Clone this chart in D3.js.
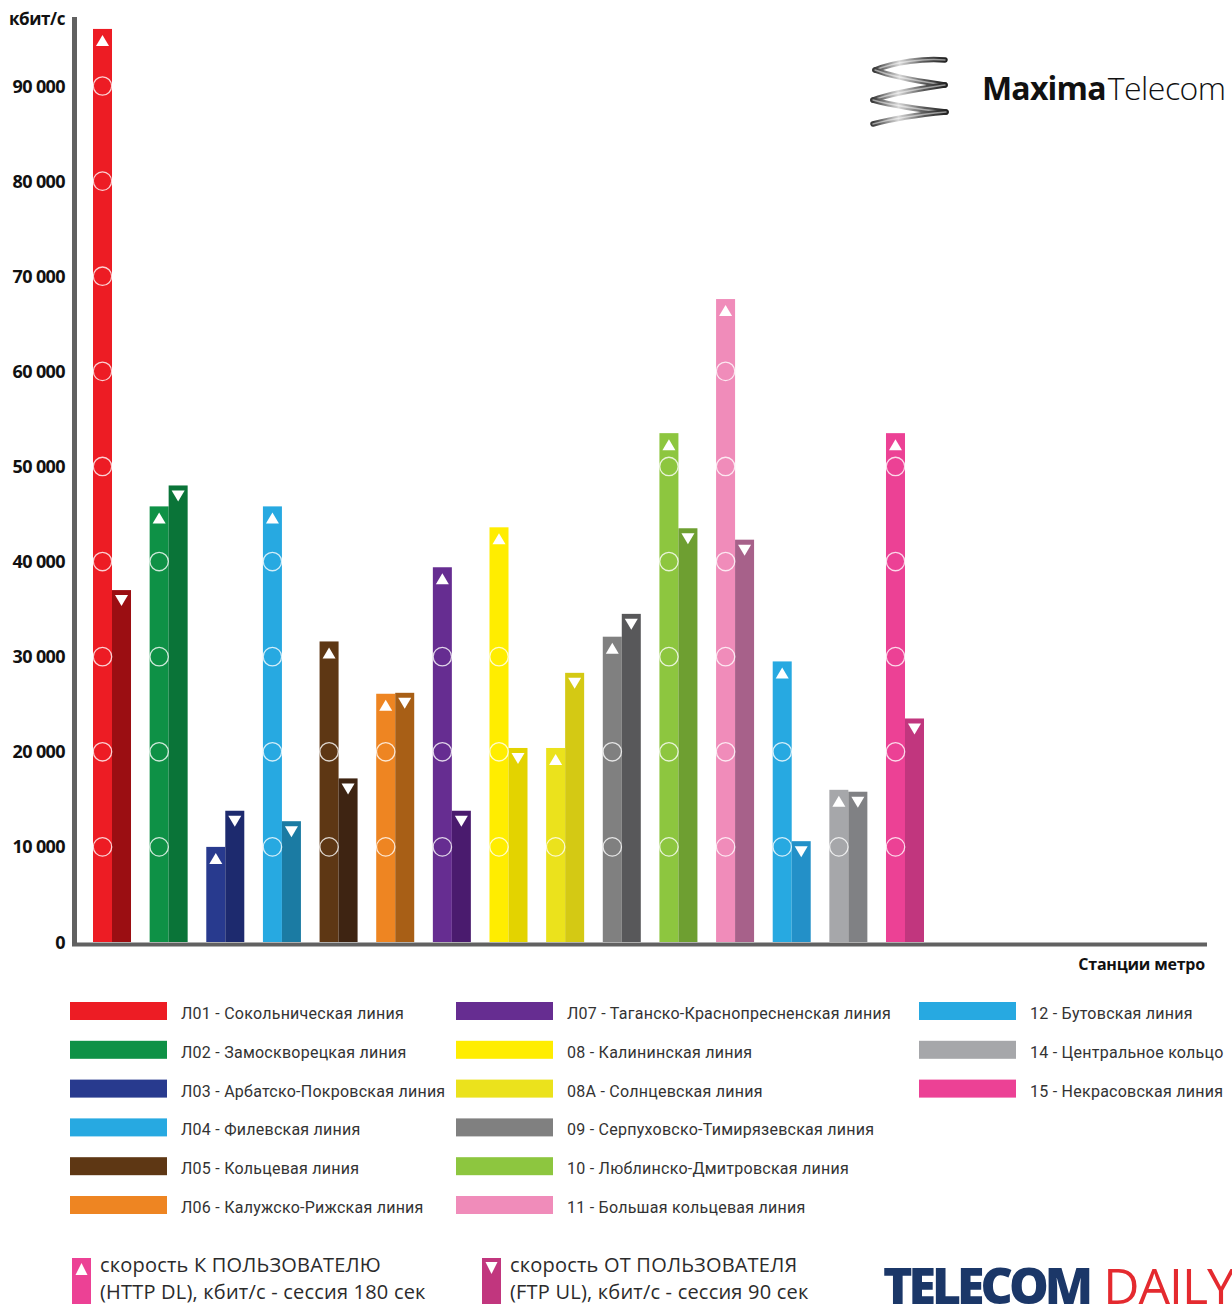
<!DOCTYPE html>
<html>
<head>
<meta charset="utf-8">
<script src="https://cdn.jsdelivr.net/npm/d3@7"></script>
<style>
  html, body { margin: 0; padding: 0; background: #ffffff; }
  svg { display: block; }
</style>
</head>
<body>
<div id="chart"></div>
<script>
// ---------- DATA ----------
const lineCodes = ["Л01","Л02","Л03","Л04","Л05","Л06","Л07","08","08A","09","10","11","12","14","15"];
const lineNames = [
  "Сокольническая линия","Замоскворецкая линия","Арбатско-Покровская линия","Филевская линия",
  "Кольцевая линия","Калужско-Рижская линия","Таганско-Краснопресненская линия","Калининская линия",
  "Солнцевская линия","Серпуховско-Тимирязевская линия","Люблинско-Дмитровская линия",
  "Большая кольцевая линия","Бутовская линия","Центральное кольцо","Некрасовская линия"
];
// скорость К ПОЛЬЗОВАТЕЛЮ (HTTP DL), кбит/с
const dlValues = [96000, 45800, 10000, 45800, 31600, 26100, 39400, 43600, 20400, 32100, 53500, 67600, 29500, 16000, 53500];
// скорость ОТ ПОЛЬЗОВАТЕЛЯ (FTP UL), кбит/с
const ulValues = [37000, 48000, 13800, 12700, 17200, 26200, 13800, 20400, 28300, 34500, 43500, 42300, 10600, 15800, 23500];
const dlColors = ["#ED1C24","#0E9146","#283A8E","#27A9E1","#5E3714","#EE8522","#662D91","#FFED00","#EBE21C","#808080","#8DC63F","#F08CBA","#27A9E1","#A6A7AA","#EC4195"];
const ulColors = ["#9B0E12","#0A7438","#1D2A6E","#1B7BA3","#3E2412","#A85F16","#4A1B6E","#E3D300","#D4C914","#58585A","#6E9F31","#A7618A","#2390C8","#808184","#C1367E"];
const yTicks = [0, 10000, 20000, 30000, 40000, 50000, 60000, 70000, 80000, 90000];
const yUnit = "кбит/с";
const xTitle = "Станции метро";
const legendDL = ["скорость К ПОЛЬЗОВАТЕЛЮ", "(HTTP DL), кбит/с - сессия 180 сек"];
const legendUL = ["скорость ОТ ПОЛЬЗОВАТЕЛЯ", "(FTP UL), кбит/с - сессия 90 сек"];

// ---------- SETUP ----------
const W = 1232, H = 1304;
const svg = d3.select("#chart").append("svg").attr("width", W).attr("height", H);
const defs = svg.append("defs");

const fmt = d3.formatLocale({decimal: ",", thousands: " ", grouping: [3], currency: ["", ""]}).format(",d");

const y = d3.scaleLinear().domain([0, 90000]).range([942, 86]);
const x = d3.scaleBand().domain(d3.range(lineCodes.length)).range([93, 924]).paddingInner(0.329).paddingOuter(0);
const sub = d3.scaleBand().domain(["dl", "ul"]).range([0, x.bandwidth()]);

const axisColor = "#616161";

// ---------- BARS ----------
const g = svg.append("g");
const groups = g.selectAll("g.grp").data(lineCodes.map((c, i) => i)).join("g")
  .attr("class", "grp").attr("transform", i => `translate(${x(i)},0)`);

groups.append("rect")
  .attr("x", sub("dl")).attr("width", sub.bandwidth())
  .attr("y", i => y(dlValues[i])).attr("height", i => y(0) - y(dlValues[i]))
  .attr("fill", i => dlColors[i]);
groups.append("rect")
  .attr("x", sub("ul")).attr("width", sub.bandwidth())
  .attr("y", i => y(ulValues[i])).attr("height", i => y(0) - y(ulValues[i]))
  .attr("fill", i => ulColors[i]);

// circles at tick levels inside DL bars (skipped near the top where the marker sits)
groups.each(function(i) {
  const cx = sub("dl") + sub.bandwidth() / 2;
  const lv = yTicks.filter(t => t > 0 && t <= dlValues[i] - 3000 && !(y(t) - y(dlValues[i]) < 36 && i === 7));
  d3.select(this).selectAll("circle").data(lv).join("circle")
    .attr("cx", cx).attr("cy", t => y(t)).attr("r", 9.2)
    .attr("fill", "none").attr("stroke", "rgba(255,255,255,0.8)").attr("stroke-width", 1.3);
});

// triangles
groups.append("path")
  .attr("d", i => {
    const cx = sub("dl") + sub.bandwidth() / 2, t = y(dlValues[i]);
    return `M${cx - 6.5},${t + 17} L${cx + 6.5},${t + 17} L${cx},${t + 6} Z`;
  }).attr("fill", "#fff");
groups.append("path")
  .attr("d", i => {
    const cx = sub("ul") + sub.bandwidth() / 2, t = y(ulValues[i]);
    return `M${cx - 6.5},${t + 5} L${cx + 6.5},${t + 5} L${cx},${t + 16} Z`;
  }).attr("fill", "#fff");

// ---------- AXES ----------
svg.append("rect").attr("x", 72).attr("y", 17).attr("width", 5).attr("height", y(0) - 17 + 4).attr("fill", axisColor);
svg.append("rect").attr("x", 72).attr("y", y(0) + 0.5).attr("width", 1207 - 72).attr("height", 4).attr("fill", axisColor);

svg.append("g").selectAll("text").data(yTicks).join("text")
  .attr("x", 65).attr("y", d => y(d) + 6.5)
  .attr("text-anchor", "end")
  .attr("font-family", "'Open Sans', 'Liberation Sans', sans-serif")
  .attr("font-weight", 700).attr("font-size", 18).attr("letter-spacing", -0.6)
  .attr("fill", "#111")
  .text(d => fmt(d));

svg.append("text").attr("x", 65).attr("y", 25).attr("text-anchor", "end")
  .attr("font-family", "'Open Sans', 'Liberation Sans', sans-serif")
  .attr("font-weight", 700).attr("font-size", 17).attr("letter-spacing", -0.4)
  .attr("fill", "#111").text(yUnit);

svg.append("text").attr("x", 1205).attr("y", 970).attr("text-anchor", "end")
  .attr("font-family", "'Open Sans', 'Liberation Sans', sans-serif")
  .attr("font-weight", 700).attr("font-size", 16).attr("letter-spacing", -0.2)
  .attr("fill", "#111").text(xTitle);

// ---------- LEGEND ----------
const colX = [70, 456, 919];
const rowsPerCol = [6, 6, 3];
const lg = svg.append("g");
let idx = 0;
colX.forEach((cx, c) => {
  for (let r = 0; r < rowsPerCol[c]; r++, idx++) {
    const yy = 1002 + r * 38.8;
    lg.append("rect").attr("x", cx).attr("y", yy).attr("width", 97).attr("height", 18).attr("fill", dlColors[idx]);
    lg.append("text").attr("x", cx + 111).attr("y", yy + 17)
      .attr("font-family", "'Roboto', 'Liberation Sans', sans-serif")
      .attr("font-size", 16).attr("letter-spacing", 0.25).attr("fill", "#333")
      .text(`${lineCodes[idx]} - ${lineNames[idx]}`);
  }
});

// bottom legend for DL / UL
function markerLegend(x0, color, up, lines) {
  const gg = svg.append("g");
  gg.append("rect").attr("x", x0).attr("y", 1258).attr("width", 19).attr("height", 46).attr("fill", color);
  const cx = x0 + 9.5;
  gg.append("path").attr("fill", "#fff").attr("d", up
    ? `M${cx - 6},${1275} L${cx + 6},${1275} L${cx},${1263} Z`
    : `M${cx - 6},${1262} L${cx + 6},${1262} L${cx},${1274} Z`);
  lines.forEach((t, k) => {
    gg.append("text").attr("x", x0 + 28).attr("y", 1272 + k * 27)
      .attr("font-family", "'Open Sans', 'Liberation Sans', sans-serif")
      .attr("font-size", 20).attr("fill", "#2b2b2b").attr("letter-spacing", 0.2)
      .text(t);
  });
}
markerLegend(72, "#EC4195", true, legendDL);
markerLegend(482, "#C1367E", false, legendUL);

// ---------- LOGOS ----------
// MaximaTelecom
const grad = defs.append("linearGradient").attr("id", "spr").attr("x1", "0").attr("y1", "0").attr("x2", "1").attr("y2", "0");
grad.append("stop").attr("offset", "0").attr("stop-color", "#3a3a3a");
grad.append("stop").attr("offset", "0.35").attr("stop-color", "#d8d8d8");
grad.append("stop").attr("offset", "0.7").attr("stop-color", "#5a5a5a");
grad.append("stop").attr("offset", "1").attr("stop-color", "#222");
const spring = svg.append("g").attr("fill", "none").attr("stroke", "url(#spr)").attr("stroke-linecap", "round");
const coils = [
  "M875,70 C895,62 925,58 945,60",
  "M875,70 C895,78 925,82 945,85",
  "M945,85 C925,88 895,92 873,100",
  "M873,100 C895,106 925,110 946,112",
  "M946,112 C925,114 895,118 873,124"
];
coils.forEach(d => spring.append("path").attr("d", d).attr("stroke-width", 5.5));
spring.selectAll("path").clone().attr("stroke", "rgba(255,255,255,0.5)").attr("stroke-width", 1.5);

const mt = svg.append("text").attr("x", 982).attr("y", 100)
  .attr("font-family", "'Open Sans', 'Liberation Sans', sans-serif").attr("font-size", 32).attr("fill", "#111");
mt.append("tspan").attr("font-weight", 700).attr("letter-spacing", -0.8).text("Maxima");
mt.append("tspan").attr("font-weight", 300).attr("letter-spacing", -0.5).attr("dx", 2).text("Telecom");

// TELECOM DAILY
const td = svg.append("text").attr("x", 883).attr("y", 1304)
  .attr("font-family", "'Open Sans', 'Liberation Sans', sans-serif").attr("font-size", 50);
td.append("tspan").attr("font-weight", 800).attr("fill", "#1B3768").attr("letter-spacing", -4).text("TELECOM");
td.append("tspan").attr("font-weight", 400).attr("fill", "#E42A2F").attr("dx", 14).attr("letter-spacing", -1).text("DAILY");
</script>
</body>
</html>
